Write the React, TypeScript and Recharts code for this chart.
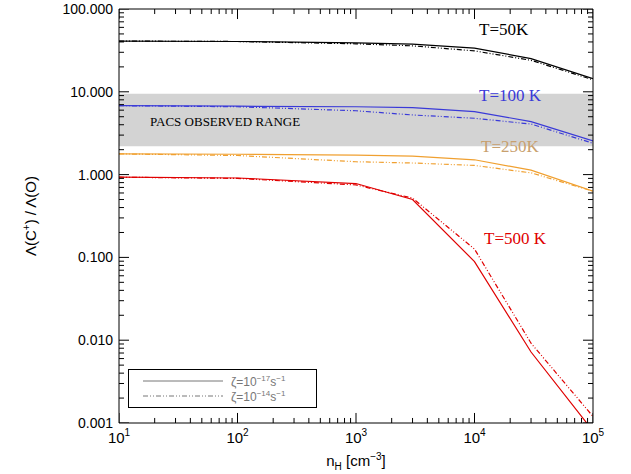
import { ComposedChart, Line, XAxis, YAxis, ReferenceArea } from 'recharts'

const nH = [10, 100, 1000, 3000, 10000, 30000, 100000]
const t50Solid = [41, 40.5, 39, 37.6, 33.7, 25.2, 14.4]
const t50Dash = [41, 40.5, 38, 35.9, 31.2, 24, 14]
const t100Solid = [6.8, 6.7, 6.6, 6.45, 5.77, 4.37, 2.55]
const t100Dash = [6.8, 6.6, 5.9, 5.25, 4.79, 4.08, 2.39]
const t250Solid = [1.78, 1.76, 1.72, 1.67, 1.51, 1.13, 0.63]
const t250Dash = [1.78, 1.7, 1.43, 1.38, 1.29, 1.05, 0.63]
const t500Solid = [0.93, 0.91, 0.78, 0.5, 0.089, 0.0072, 0.0008]
const t500Dash = [0.93, 0.9, 0.75, 0.52, 0.126, 0.0092, 0.0012]
const bandLow = 2.2
const bandHigh = 9.5

const dashDot = '5 2 1 2 1 2'
const series = [
  { name: 't50s', vals: t50Solid, color: '#000000', dash: undefined },
  { name: 't50d', vals: t50Dash, color: '#000000', dash: dashDot },
  { name: 't100s', vals: t100Solid, color: '#3a3ad8', dash: undefined },
  { name: 't100d', vals: t100Dash, color: '#3a3ad8', dash: dashDot },
  { name: 't250s', vals: t250Solid, color: '#f0a030', dash: undefined },
  { name: 't250d', vals: t250Dash, color: '#f0a030', dash: dashDot },
  { name: 't500s', vals: t500Solid, color: '#e00000', dash: undefined },
  { name: 't500d', vals: t500Dash, color: '#e00000', dash: dashDot },
]

const minorTicks = (lo: number, hi: number) => {
  const out: number[] = []
  for (let e = lo; e < hi; e++) for (let m = 1; m < 10; m++) out.push(m * Math.pow(10, e))
  out.push(Math.pow(10, hi))
  return out
}
const xAll = minorTicks(1, 5)
const yAll = minorTicks(-3, 2)
const xMajor = [10, 100, 1000, 10000, 100000]
const yMajor = [0.001, 0.01, 0.1, 1, 10, 100]
const isMajor = (v: number) => Math.abs(Math.log10(v) - Math.round(Math.log10(v))) < 1e-6

// tick lengths as fractions of a decade (about 82 px per y decade, 118 px per x decade)
const yLen = (v: number) => Math.pow(10, (isMajor(v) ? 10 : 5) / 82.5)
const xLen = (v: number) => Math.pow(10, (isMajor(v) ? 10 : 5) / 118.5)

// tick marks as tiny two-point segments in data space
const tickSegs: { x: number; y: number }[][] = [
  ...xAll.map((v) => [{ x: v, y: 0.001 }, { x: v, y: 0.001 * yLen(v) }]),
  ...xAll.map((v) => [{ x: v, y: 100 }, { x: v, y: 100 / yLen(v) }]),
  ...yAll.map((v) => [{ x: 10, y: v }, { x: 10 * xLen(v), y: v }]),
  ...yAll.map((v) => [{ x: 100000, y: v }, { x: 100000 / xLen(v), y: v }]),
]

const font = 'Liberation Sans, Arial, sans-serif'
const serif = 'Liberation Serif, Times New Roman, serif'

function XTick({ x, y, payload }: any) {
  return (
    <text x={x} y={y + 18} textAnchor="middle" fontFamily={font} fontSize={15} fill="#000">
      10<tspan dy={-7} fontSize={10}>{Math.round(Math.log10(payload.value))}</tspan>
    </text>
  )
}

export default function App() {
  return (
    <div style={{ position: 'absolute', left: 0, top: 0, width: 631, height: 474, background: '#fff' }}>
      <ComposedChart width={631} height={474} margin={{ top: 0, right: 0, bottom: 0, left: 0 }}>
        <XAxis xAxisId="b" type="number" dataKey="x" scale="log" domain={[10, 100000]} ticks={xMajor}
          interval={0} tick={<XTick />} tickLine={false} tickSize={0} axisLine={{ stroke: '#000' }} height={51} allowDataOverflow />
        <XAxis xAxisId="t" orientation="top" type="number" dataKey="x" scale="log" domain={[10, 100000]}
          tick={false} tickLine={false} axisLine={{ stroke: '#000' }} height={9} allowDataOverflow />
        <YAxis yAxisId="l" type="number" scale="log" domain={[0.001, 100]} ticks={yMajor} interval={0}
          tickFormatter={(v: number) => v.toFixed(3)} tick={{ fontFamily: font, fontSize: 14, fill: '#000' }}
          tickLine={false} tickSize={0} tickMargin={6} axisLine={{ stroke: '#000' }} width={119} allowDataOverflow />
        <YAxis yAxisId="r" orientation="right" type="number" scale="log" domain={[0.001, 100]}
          tick={false} tickLine={false} axisLine={{ stroke: '#000' }} width={38} allowDataOverflow />
        <ReferenceArea xAxisId="b" yAxisId="l" x1={10} x2={100000} y1={bandLow} y2={bandHigh} fill="#d3d3d3" fillOpacity={1} stroke="none" />
        {series.map((s) => (
          <Line key={s.name} xAxisId="b" yAxisId="l" data={nH.map((x, i) => ({ x, y: s.vals[i] }))} dataKey="y"
            stroke={s.color} strokeWidth={1.2} strokeDasharray={s.dash} dot={false} isAnimationActive={false} type="linear" />
        ))}
        {tickSegs.map((seg, i) => (
          <Line key={'tick' + i} xAxisId="b" yAxisId="l" data={seg} dataKey="y" stroke="#000" strokeWidth={1}
            dot={false} activeDot={false} isAnimationActive={false} type="linear" />
        ))}
      </ComposedChart>
      <div style={{ position: 'absolute', left: 150, top: 114, fontFamily: serif, fontSize: 13, color: '#000' }}>PACS OBSERVED RANGE</div>
      <div style={{ position: 'absolute', left: 479, top: 20, fontFamily: serif, fontSize: 17, color: '#000' }}>T=50K</div>
      <div style={{ position: 'absolute', left: 479, top: 86, fontFamily: serif, fontSize: 17, color: '#3a3ad8' }}>T=100 K</div>
      <div style={{ position: 'absolute', left: 481, top: 137, fontFamily: serif, fontSize: 17, color: '#c8a06e' }}>T=250K</div>
      <div style={{ position: 'absolute', left: 484, top: 229, fontFamily: serif, fontSize: 17, color: '#e00000' }}>T=500 K</div>
      <svg width={631} height={474} style={{ position: 'absolute', left: 0, top: 0, pointerEvents: 'none' }}>
        <text transform="translate(36,216) rotate(-90)" textAnchor="middle" fontFamily={font} fontSize={15} fill="#000">
          Λ(C<tspan dy={-6} fontSize={10}>+</tspan><tspan dy={6}>)  /  Λ(O)</tspan>
        </text>
        <text x={356} y={466} textAnchor="middle" fontFamily={font} fontSize={15} fill="#000">
          n<tspan dy={4} fontSize={10}>H</tspan><tspan dy={-4}> [cm</tspan><tspan dy={-6} fontSize={10}>−3</tspan><tspan dy={6}>]</tspan>
        </text>
      </svg>
      <div style={{ position: 'absolute', left: 128, top: 369, width: 187, height: 37, border: '1px solid #000', background: '#fff' }}>
        <svg width={187} height={37} style={{ position: 'absolute', left: 0, top: 0 }}>
          <line x1={14} x2={94} y1={11} y2={11} stroke="#777" />
          <line x1={14} x2={94} y1={26} y2={26} stroke="#777" strokeDasharray={dashDot} />
          <text x={102} y={16} fontFamily={font} fontSize={12} fill="#777">ζ=10<tspan dy={-5} fontSize={8}>−17</tspan><tspan dy={5}>s</tspan><tspan dy={-5} fontSize={8}>−1</tspan></text>
          <text x={102} y={31} fontFamily={font} fontSize={12} fill="#777">ζ=10<tspan dy={-5} fontSize={8}>−14</tspan><tspan dy={5}>s</tspan><tspan dy={-5} fontSize={8}>−1</tspan></text>
        </svg>
      </div>
    </div>
  )
}
